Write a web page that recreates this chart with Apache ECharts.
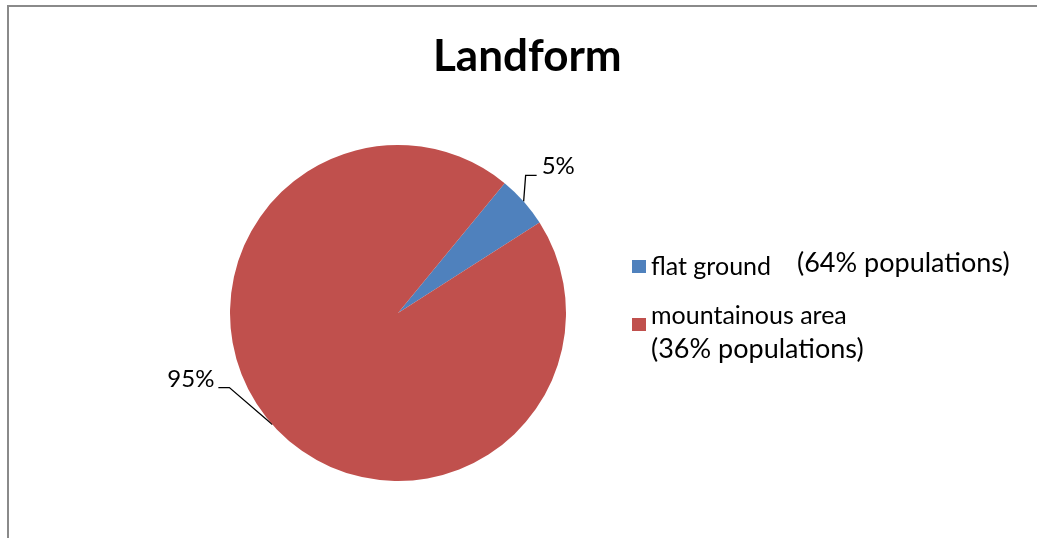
<!DOCTYPE html>
<html>
<head>
<meta charset="utf-8">
<script src="https://cdn.jsdelivr.net/npm/echarts@6/dist/echarts.min.js"></script>
<style>html,body{margin:0;padding:0;background:#fff}#c{width:1037px;height:538px}</style>
</head>
<body>
<div id="c"></div>
<script>
const titleText = 'Landform';
const categories = ['flat ground', 'mountainous area'];
const values = [5, 95];
const colors = ['#4F81BD', '#C0504D'];
const populationNotes = ['(64% populations)', '(36% populations)'];

const FONT = 'Lato';
const chart = echarts.init(document.getElementById('c'));
const legendBase = {
  orient: 'vertical', left: 632, padding: 0,
  itemWidth: 14, itemHeight: 13, icon: 'rect'
};
chart.setOption({
  animation: false,
  backgroundColor: '#fff',
  title: {
    text: titleText, left: 433, top: 35, padding: 0,
    textStyle: { fontFamily: FONT, fontWeight: 'bold', fontSize: 44, color: '#000' }
  },
  legend: [
    Object.assign({}, legendBase, {
      top: 254,
      data: [categories[0]],
      textStyle: { fontFamily: FONT, fontSize: 25, color: '#000' }
    }),
    Object.assign({}, legendBase, {
      top: 303,
      data: [categories[1]],
      formatter: name => '{a|' + name + '}\n{b|' + populationNotes[1] + '}',
      textStyle: {
        color: '#000',
        rich: {
          a: { fontFamily: FONT, fontSize: 25, lineHeight: 50, color: '#000' },
          b: { fontFamily: FONT, fontSize: 27, lineHeight: 18, color: '#000' }
        }
      }
    })
  ],
  graphic: [
    { type: 'line', shape: { x1: 8, y1: 5, x2: 8, y2: 538 }, style: { stroke: '#8a8a8a', lineWidth: 2 } },
    { type: 'line', shape: { x1: 7, y1: 6, x2: 1037, y2: 6 }, style: { stroke: '#8a8a8a', lineWidth: 2 } },
    { type: 'text', left: 797, top: 250, style: { text: populationNotes[0], font: '27px ' + FONT, fill: '#000' } }
  ],
  series: [{
    type: 'pie',
    center: [398, 313],
    radius: 168,
    startAngle: 50.6,
    clockwise: true,
    color: colors,
    data: categories.map((n, i) => ({ name: n, value: values[i] })),
    label: {
      show: true, position: 'outside',
      formatter: p => p.value + '%',
      fontFamily: FONT, fontSize: 24, color: '#000'
    },
    labelLine: { show: true, lineStyle: { color: '#000', width: 1.3 } },
    emphasis: { disabled: true },
    labelLayout: function (params) {
      const pts = params.labelLinePoints;
      if (!pts) return {};
      const e = pts[0];
      if (params.dataIndex === 0) {
        const p1 = [e[0] + 2, e[1] - 26];
        const p2 = [p1[0] + 11, p1[1]];
        return { x: p2[0] + 5, y: p2[1] - 9, align: 'left', verticalAlign: 'middle', labelLinePoints: [e, p1, p2] };
      } else {
        const p1 = [e[0] - 43, e[1] - 37];
        const p2 = [p1[0] - 11, p1[1]];
        return { x: p2[0] - 4, y: p2[1] - 8, align: 'right', verticalAlign: 'middle', labelLinePoints: [e, p1, p2] };
      }
    }
  }]
});
</script>
</body>
</html>
